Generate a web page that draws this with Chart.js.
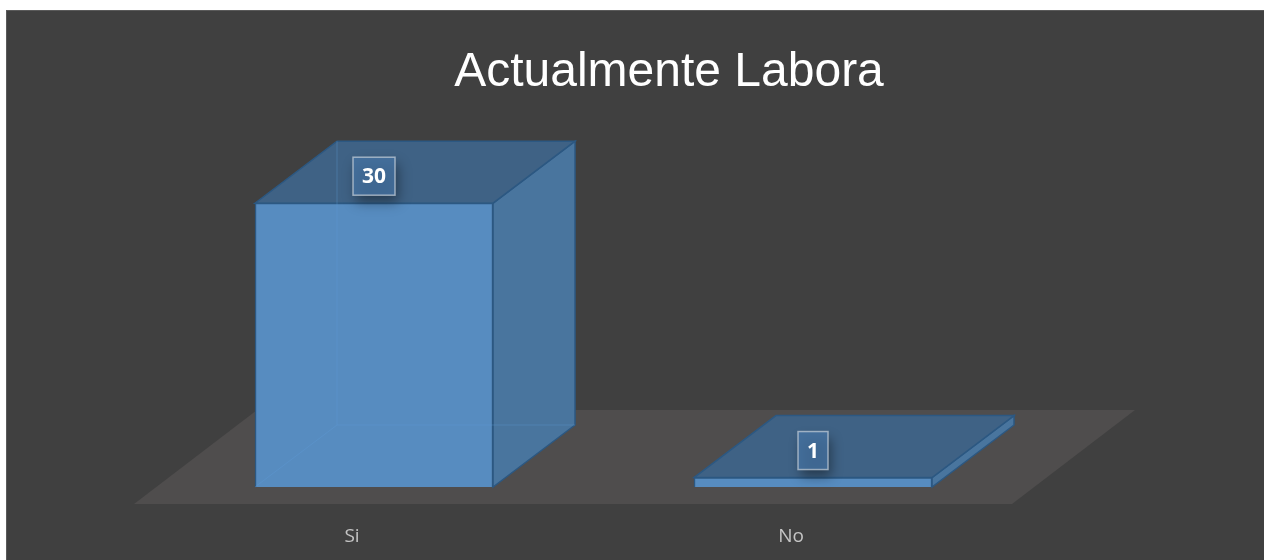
<!DOCTYPE html>
<html>
<head>
<meta charset="utf-8">
<script src="https://cdn.jsdelivr.net/npm/chart.js@4.4.0/dist/chart.umd.min.js"></script>
<style>
  html, body { margin: 0; padding: 0; background: #ffffff; }
  #quadro {
    position: absolute; left: 6px; top: 10px; width: 1258px; height: 550px;
    background: #404040; box-shadow: inset 1px 1px 0 #5a5a5a;
  }
</style>
</head>
<body>
<div id="quadro"><canvas id="grafico"></canvas></div>
<script>
// dados
const categorias = ['Si', 'No'];
const valores = [30, 1];
const titulo = 'Actualmente Labora';

const ctx = document.getElementById('grafico');

// aparencia 3d
const prof = { dx: 82, dy: 62 };
const piso = { dx: 123, dy: 94, recuoX: 20.5, recuoY: 17 };
const corFrente = '#578cc0';
const corTopo = '#3f6285';
const corLado = '#49759e';
const corAresta = '#2c5882';

function poligono(c, pts, fill, stroke) {
    c.beginPath();
    c.moveTo(pts[0][0], pts[0][1]);
    for (let i = 1; i < pts.length; i++) c.lineTo(pts[i][0], pts[i][1]);
    c.closePath();
    c.fillStyle = fill;
    c.fill();
    if (stroke) {
        c.lineWidth = 1.5;
        c.strokeStyle = stroke;
        c.stroke();
    }
}

const cubo3d = {
    id: 'cubo3d',
    beforeDatasetsDraw(chart) {
        const c = chart.ctx;
        const xs = chart.scales.x;
        const barras = chart.getDatasetMeta(0).data;
        c.save();
        // piso
        const esq = xs.getPixelForValue(-0.5) - piso.recuoX;
        const dir = xs.getPixelForValue(categorias.length - 0.5) - piso.recuoX;
        const yb = barras[0].base + piso.recuoY;
        poligono(c, [[esq, yb], [dir, yb], [dir + piso.dx, yb - piso.dy], [esq + piso.dx, yb - piso.dy]], '#4f4d4d');
        // topo e lado
        barras.forEach(b => {
            const x0 = b.x - b.width / 2, x1 = b.x + b.width / 2;
            const yt = b.y, yf = b.base;
            poligono(c, [[x1, yt], [x1 + prof.dx, yt - prof.dy], [x1 + prof.dx, yf - prof.dy], [x1, yf]], corLado, corAresta);
            poligono(c, [[x0, yt], [x1, yt], [x1 + prof.dx, yt - prof.dy], [x0 + prof.dx, yt - prof.dy]], corTopo, corAresta);
        });
        c.restore();
    },
    afterDatasetsDraw(chart) {
        const c = chart.ctx;
        const barras = chart.getDatasetMeta(0).data;
        c.save();
        barras.forEach((b, i) => {
            const x0 = b.x - b.width / 2, x1 = b.x + b.width / 2;
            const yt = b.y, yf = b.base;
            // arestas escondidas (barra translucida)
            if (yf - yt > 20) {
                c.strokeStyle = 'rgba(95,155,215,0.35)';
                c.lineWidth = 1;
                c.beginPath();
                c.moveTo(x0, yf);
                c.lineTo(x0 + prof.dx, yf - prof.dy);
                c.lineTo(x1 + prof.dx, yf - prof.dy);
                c.moveTo(x0 + prof.dx, yf - prof.dy);
                c.lineTo(x0 + prof.dx, yt - prof.dy);
                c.stroke();
            }
            // rotulo
            const txt = String(valores[i]);
            c.font = 'bold 21px "Open Sans"';
            const w = c.measureText(txt).width + 18;
            const h = 38;
            const cx = b.x, cy = yt - 27;
            c.save();
            c.shadowColor = 'rgba(0,0,0,0.5)';
            c.shadowBlur = 12;
            c.shadowOffsetX = 3;
            c.shadowOffsetY = 7;
            c.fillStyle = 'rgba(70,115,162,0.8)';
            c.fillRect(cx - w / 2, cy - h / 2, w, h);
            c.restore();
            c.strokeStyle = 'rgba(200,210,220,0.7)';
            c.lineWidth = 1.5;
            c.strokeRect(cx - w / 2, cy - h / 2, w, h);
            c.fillStyle = '#ffffff';
            c.textAlign = 'center';
            c.textBaseline = 'middle';
            c.fillText(txt, cx, cy + 1);
        });
        c.restore();
    }
};

new Chart(ctx, {
    type: 'bar',
    data: {
        datasets: [{
            data: categorias.map((cat, i) => ({ x: i, y: valores[i] })),
            backgroundColor: corFrente,
            borderColor: corAresta,
            borderWidth: 1.5,
            barThickness: 238,
        }]
    },
    options: {
        responsive: true,
        maintainAspectRatio: false,
        animation: false,
        layout: { padding: { left: 68, right: 0, top: 0, bottom: 0 } },
        plugins: {
            legend: { display: false },
            tooltip: { enabled: false },
            title: {
                display: true,
                text: titulo,
                color: '#ffffff',
                font: { family: '"Liberation Sans", Arial', size: 48, weight: 'normal' },
                padding: { top: 34, bottom: 7 }
            }
        },
        scales: {
            x: {
                type: 'linear',
                offset: false,
                min: -0.6834,
                max: 2.0273,
                grid: { display: false, drawTicks: false },
                border: { display: false },
                afterBuildTicks: (ax) => { ax.ticks = categorias.map((c, i) => ({ value: i })); },
                afterFit: (ax) => { ax.height = 73; },
                ticks: {
                    color: '#c4c4c4',
                    font: { family: '"Open Sans"', size: 19 },
                    padding: 38,
                    labelOffset: -22,
                    maxRotation: 0,
                    callback: (v) => categorias[v]
                }
            },
            y: {
                display: false,
                min: 0,
                max: 40
            }
        }
    },
    plugins: [cubo3d]
});
</script>
</body>
</html>
